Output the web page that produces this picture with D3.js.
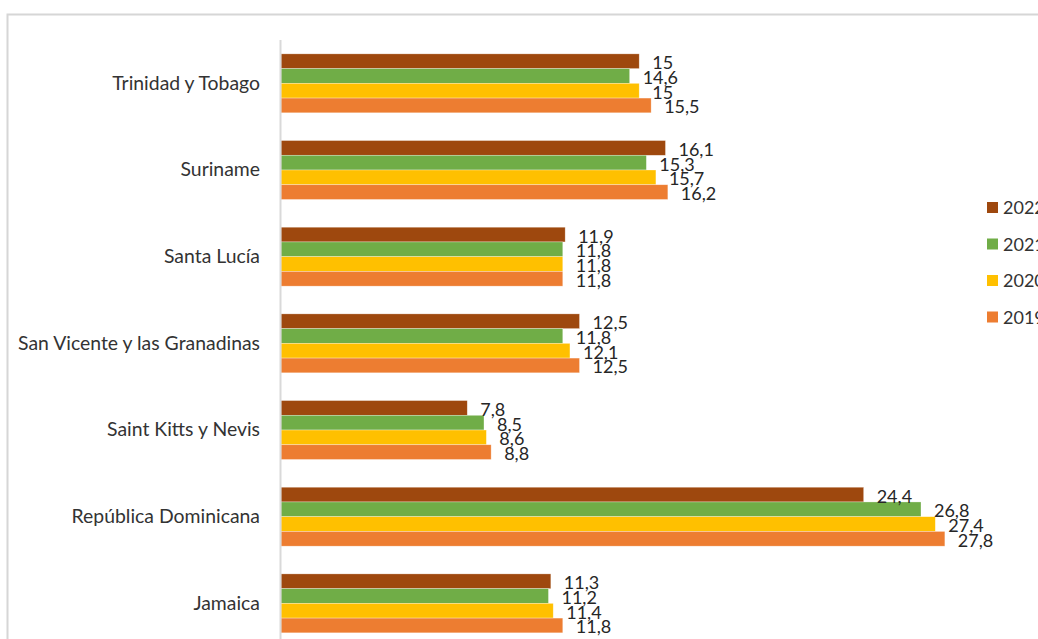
<!DOCTYPE html>
<html>
<head>
<meta charset="utf-8">
<script src="https://cdn.jsdelivr.net/npm/d3@7"></script>
<style>
  html, body { margin: 0; padding: 0; background: #fff; }
  svg { display: block; }
  text { font-family: Lato, "Noto Sans", sans-serif; }
</style>
</head>
<body>
<svg id="chart" width="1038" height="639"></svg>
<script>
// Countries, listed top to bottom
const countries = [
  "Trinidad y Tobago",
  "Suriname",
  "Santa Lucía",
  "San Vicente y las Granadinas",
  "Saint Kitts y Nevis",
  "República Dominicana",
  "Jamaica"
];

// Years, in the order the bars are stacked inside each group
const years = ["2022", "2021", "2020", "2019"];

// Values per year, one entry per country
const values2022 = [15, 16.1, 11.9, 12.5, 7.8, 24.4, 11.3];
const values2021 = [14.6, 15.3, 11.8, 11.8, 8.5, 26.8, 11.2];
const values2020 = [15, 15.7, 11.8, 12.1, 8.6, 27.4, 11.4];
const values2019 = [15.5, 16.2, 11.8, 12.5, 8.8, 27.8, 11.8];

const seriesColors = ["#9E480E", "#70AD47", "#FFC000", "#ED7D31"];

const seriesValues = [values2022, values2021, values2020, values2019];
const rows = countries.map((c, i) => ({
  country: c,
  bars: years.map((y, k) => ({ year: y, value: seriesValues[k][i] }))
}));

const svg = d3.select("#chart");

// Frame of the chart area
svg.append("path")
  .attr("d", "M7.5,640 V14.5 H1040")
  .attr("fill", "none")
  .attr("stroke", "#d6d6d6")
  .attr("stroke-width", 2);

const x = d3.scaleLinear().domain([0, 30]).range([281, 281 + 30 * 23.88]);
const y = d3.scaleBand().domain(countries).range([40, 646.7])
  .paddingInner(0.32).paddingOuter(0.16);
const yInner = d3.scaleBand().domain(years).range([0, y.bandwidth()]);
const color = d3.scaleOrdinal().domain(years).range(seriesColors);

const fmt = v => String(v).replace(".", ",");

const groups = svg.append("g").selectAll("g")
  .data(rows)
  .join("g")
  .attr("transform", d => `translate(0,${y(d.country)})`);

groups.selectAll("rect")
  .data(d => d.bars)
  .join("rect")
  .attr("x", x(0))
  .attr("y", d => yInner(d.year))
  .attr("width", d => x(d.value) - x(0))
  .attr("height", yInner.bandwidth())
  .attr("fill", d => color(d.year))
  .attr("stroke", "#fff")
  .attr("stroke-opacity", 0.5)
  .attr("stroke-width", 0.6);

groups.selectAll("text.val")
  .data(d => d.bars)
  .join("text")
  .attr("class", "val")
  .attr("x", d => x(d.value) + 13)
  .attr("y", d => yInner(d.year) + yInner.bandwidth() / 2 + 8)
  .attr("font-size", 18)
  .attr("fill", "#262626")
  .text(d => fmt(d.value));

// Category axis
const yAxis = svg.append("g")
  .attr("transform", `translate(${x(0)},0)`)
  .call(d3.axisLeft(y).tickSize(0).tickPadding(21));
yAxis.select(".domain")
  .attr("d", `M-0.5,40 V640`)
  .attr("stroke", "#d9d9d9")
  .attr("stroke-width", 2);
yAxis.selectAll(".tick text")
  .attr("font-size", 19.4)
  .attr("font-family", "Lato, 'Noto Sans', sans-serif")
  .attr("fill", "#333")
  .attr("dy", "0.33em");

// Legend
const legend = svg.append("g").selectAll("g")
  .data(years)
  .join("g")
  .attr("transform", (d, i) => `translate(987,${202 + i * 36.5})`);
legend.append("rect")
  .attr("width", 11).attr("height", 11)
  .attr("fill", d => color(d));
legend.append("text")
  .attr("x", 16).attr("y", 12)
  .attr("font-size", 18)
  .attr("fill", "#333")
  .text(d => d);
</script>
</body>
</html>
